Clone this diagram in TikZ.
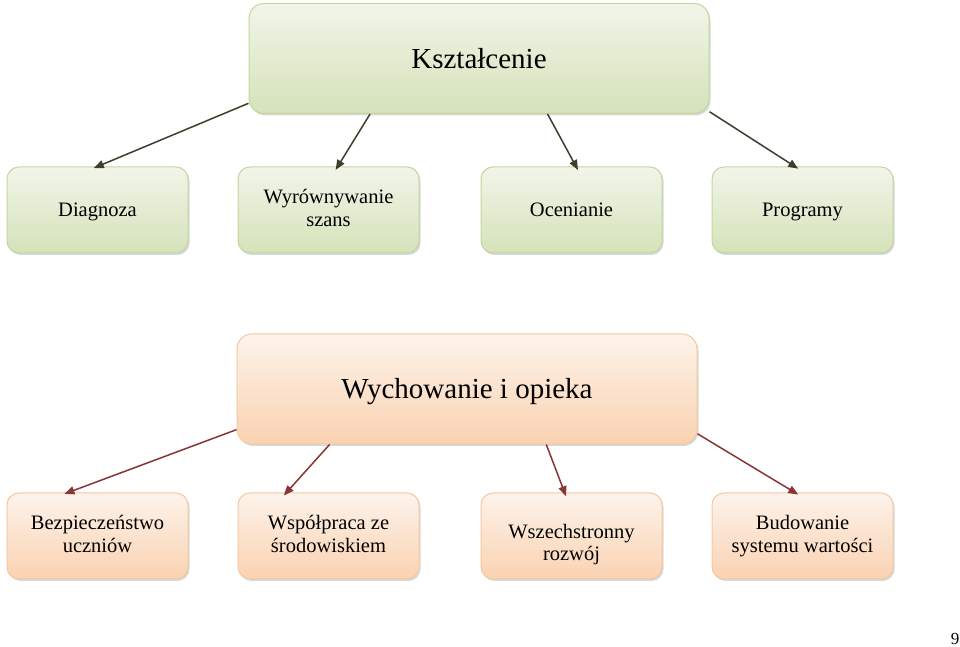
\documentclass[tikz,border=0pt]{standalone}
\usepackage{fontspec}
\setmainfont{Liberation Serif}
\usepackage{xcolor}
\usetikzlibrary{positioning,shadows,arrows.meta}
\definecolor{greenedge}{HTML}{C4D69E}
\definecolor{greentop}{HTML}{F1F5E9}
\definecolor{greenbot}{HTML}{D5E2B9}
\definecolor{orangeedge}{HTML}{F4C9A2}
\definecolor{orangetop}{HTML}{FDF3EB}
\definecolor{orangebot}{HTML}{FAD2B1}
\definecolor{olivearrow}{HTML}{3E3E2C}
\definecolor{redarrow}{HTML}{8A3436}
\newcommand{\boxstrut}{\rule[-0.2\baselineskip]{0pt}{\baselineskip}}
\pgfkeys{tikz/boxbase/.style={line width=1pt,rounded corners=12pt,align=center,
    execute at begin node=\boxstrut,execute at end node=\boxstrut,
    drop shadow={opacity=0.3,shadow xshift=1.5pt,shadow yshift=-2pt}}}
\pgfkeys{tikz/greenbox/.style={boxbase,draw=greenedge,top color=greentop,bottom color=greenbot,
    minimum width=181pt,minimum height=86pt,font=\fontsize{20.5}{22.5}\selectfont}}
\pgfkeys{tikz/orangebox/.style={boxbase,draw=orangeedge,top color=orangetop,bottom color=orangebot,
    minimum width=181pt,minimum height=86pt,font=\fontsize{20.5}{22.5}\selectfont}}
\pgfkeys{tikz/headbox/.style={minimum width=460pt,minimum height=110pt,rounded corners=15pt,
    font=\fontsize{29}{32}\selectfont}}
\pgfkeys{tikz/linkgreen/.style={-{Triangle[length=10pt,width=8pt]},line width=1.5pt,olivearrow,shorten >=-4pt}}
\pgfkeys{tikz/linkred/.style={-{Triangle[length=10pt,width=8pt]},line width=1.5pt,redarrow,shorten >=-4pt}}

\begin{document}
\begin{tikzpicture}[x=1pt,y=1pt,node distance=49pt]
  \fill[white] (0,0) rectangle (960,647);
  \useasboundingbox (0,0) rectangle (960,647);

  \node[greenbox,headbox] (ksz) at (479,588.5) {Kształcenie};
  \node[greenbox] (diag) at (97.5,437) {Diagnoza};
  \node[greenbox,right=of diag] (wyr) {Wyrównywanie\\szans};
  \node[greenbox,right=61pt of wyr] (oce) {Ocenianie};
  \node[greenbox,right=of oce] (prog) {Programy};

  \node[orangebox,headbox] (wych) at (467,258) {Wychowanie i opieka};
  \node[orangebox,below=239pt of diag] (bez) {Bezpieczeństwo\\uczniów};
  \node[orangebox,below=239pt of wyr] (wsp) {Współpraca ze\\środowiskiem};
  \node[orangebox,below=239pt of oce] (wsz) {\rule{0pt}{32pt}Wszechstronny\\rozwój};
  \node[orangebox,below=239pt of prog] (bud) {Budowanie\\systemu wartości};

  \draw[linkgreen] (ksz.191) -- (diag.north);
  \draw[linkgreen] (ksz.207) -- (wyr.78);
  \draw[linkgreen] (ksz.321) -- (oce.84);
  \draw[linkgreen] (ksz.347) -- (prog.100);

  \draw[linkred] (wych.190.6) -- (bez.124);
  \draw[linkred] (wych.202.6) -- (wsp.134);
  \draw[linkred] (wych.325) -- (wsz.99.7);
  \draw[linkred] (wych.349) -- (bud.100);

  \node[font=\fontsize{17}{19}\selectfont] (page) at (955,8) {9};
\end{tikzpicture}
\end{document}
